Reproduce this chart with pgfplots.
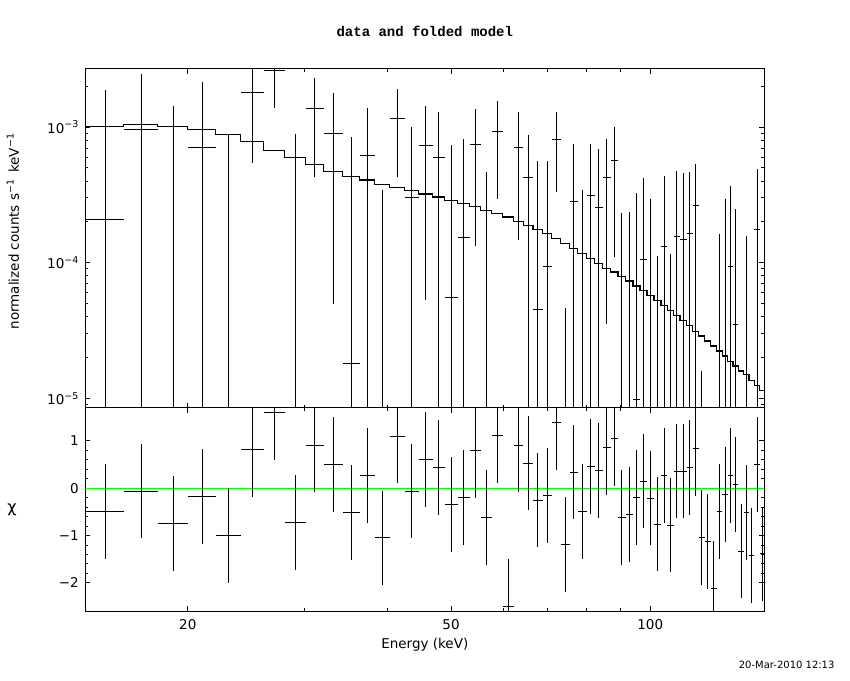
\documentclass[border=0pt]{standalone}
\usepackage{pgfplots}
\pgfplotsset{compat=1.18}
\usepackage{pgfplotstable}
\usepackage{fontspec}
\setmainfont{DejaVu Sans}
\newfontfamily\titlefont{Liberation Mono}
\definecolor{pgreen}{RGB}{0,255,0}

% data points with visible central value: x, half width, value, top, bottom of error bar
\pgfplotstableread{
x xe y hi lo
15.005 1.005 2.09e-4 1.874e-3 1e-7
17.015 1.005 9.61e-4 2.458e-3 1e-7
21.02 1.02 7.08e-4 2.146e-3 1e-7
25.05 1.0 1.80e-3 3.05e-3 5.46e-4
27.04 0.99 2.617e-3 3.85e-3 1.389e-3
31.125 0.975 1.373e-3 2.297e-3 4.30e-4
33.195 1.095 9.03e-4 1.780e-3 4.99e-5
35.34 1.05 1.81e-5 8.44e-4 1e-7
37.365 0.975 6.18e-4 1.380e-3 1e-7
41.47 1.08 1.159e-3 1.905e-3 4.30e-4
43.615 1.065 3.00e-4 1.0e-3 1e-7
45.795 1.115 7.33e-4 1.429e-3 5.34e-5
47.91 1.0 5.98e-4 1.290e-3 1e-7
50.04 1.13 5.55e-5 7.37e-4 1e-7
52.26 1.09 1.537e-4 8.16e-4 1e-7
54.39 1.04 7.45e-4 1.357e-3 1.334e-4
58.72 1.12 9.19e-4 1.554e-3 2.96e-4
63.235 1.055 7.08e-4 1.290e-3 1.477e-4
65.395 1.105 4.21e-4 8.73e-4 1e-7
67.64 1.14 4.48e-5 5.62e-4 1e-7
69.875 1.095 9.40e-5 5.62e-4 1e-7
72.10 1.13 8.11e-4 1.290e-3 3.34e-4
76.625 1.065 2.83e-4 7.49e-4 1e-7
81.295 1.135 3.13e-4 7.49e-4 1e-7
83.59 1.16 2.57e-4 6.88e-4 1e-7
85.95 1.2 4.26e-4 8.16e-4 3.51e-5
88.27 1.12 5.62e-4 1.0e-3 1.107e-4
95.345 1.165 9.83e-6 3.26e-4 1e-7
97.70 1.19 1.058e-4 4.23e-4 1e-7
104.98 1.15 1.320e-4 4.35e-4 1e-7
109.72 1.2 1.572e-4 4.74e-4 1e-7
112.23 1.31 1.494e-4 4.58e-4 1e-7
114.735 1.195 1.645e-4 4.66e-4 1e-7
117.155 1.225 2.62e-4 5.34e-4 1e-7
132.17 1.22 9.40e-5 3.67e-4 1e-7
134.63 1.24 3.51e-5 2.49e-4 1e-7
145.015 1.365 1.741e-4 4.93e-4 1e-7
}\datavis

% bins whose central value is below zero: only the upper part of the error bar shows
\pgfplotstableread{
x hi lo
19.01 1.429e-3 1e-7
23.045 8.88e-4 1e-7
29.09 8.88e-4 1e-7
39.365 3.43e-4 1e-7
56.515 4.66e-4 1e-7
74.395 4.63e-5 1e-7
78.925 3.43e-4 1e-7
90.605 2.31e-4 1e-7
93.0 2.35e-4 1e-7
100.11 2.95e-4 1e-7
102.58 1.120e-4 1e-7
107.325 1.158e-4 1e-7
119.63 1.59e-5 1e-7
127.28 1.636e-4 1e-7
129.735 2.95e-4 1e-7
139.74 1.581e-4 1e-7
}\dataneg

% folded model: left bin edge, value (last row closes the last bin)
\pgfplotstableread{
e m
14.00 1.011e-3
16.01 1.046e-3
18.02 1.011e-3
20.00 9.61e-4
22.04 8.83e-4
24.05 7.79e-4
26.05 6.69e-4
28.03 5.94e-4
30.15 5.31e-4
32.10 4.69e-4
34.29 4.30e-4
36.39 4.07e-4
38.34 3.78e-4
40.39 3.59e-4
42.55 3.39e-4
44.68 3.21e-4
46.91 3.05e-4
48.91 2.88e-4
51.17 2.72e-4
53.35 2.59e-4
55.43 2.44e-4
57.60 2.31e-4
59.84 2.17e-4
62.18 2.02e-4
64.29 1.88e-4
66.50 1.76e-4
68.78 1.63e-4
70.97 1.50e-4
73.23 1.39e-4
75.56 1.27e-4
77.69 1.17e-4
80.16 1.07e-4
82.43 9.83e-5
84.75 9.03e-5
87.15 8.53e-5
89.39 7.93e-5
91.82 7.33e-5
94.18 6.73e-5
96.51 6.22e-5
98.89 5.71e-5
101.33 5.25e-5
103.83 4.82e-5
106.13 4.43e-5
108.52 4.07e-5
110.92 3.74e-5
113.54 3.43e-5
115.93 3.13e-5
118.38 2.88e-5
120.88 2.65e-5
123.43 2.43e-5
126.04 2.23e-5
128.52 2.05e-5
130.95 1.88e-5
133.39 1.73e-5
135.87 1.59e-5
138.45 1.49e-5
141.03 1.36e-5
143.65 1.25e-5
146.38 1.15e-5
148.74 1.15e-5
}\modeldata

% residuals in units of sigma
\pgfplotstableread{
x xe c
15.005 1.005 -0.49
17.015 1.005 -0.06
19.01 0.99 -0.74
21.02 1.02 -0.17
23.045 1.005 -1.00
25.05 1.0 0.82
27.04 0.99 1.60
29.09 1.06 -0.72
31.125 0.975 0.91
33.195 1.095 0.50
35.34 1.05 -0.51
37.365 0.975 0.27
39.365 1.025 -1.05
41.47 1.08 1.10
43.615 1.065 -0.06
45.795 1.115 0.61
47.91 1.0 0.44
50.04 1.13 -0.34
52.26 1.09 -0.19
54.39 1.04 0.80
56.515 1.085 -0.62
58.72 1.12 1.12
61.01 1.17 -2.50
63.235 1.055 0.91
65.395 1.105 0.53
67.64 1.14 -0.25
69.875 1.095 -0.15
72.10 1.13 1.39
74.395 1.165 -1.19
76.625 1.065 0.34
78.925 1.235 -0.49
81.295 1.135 0.46
83.59 1.16 0.38
85.95 1.2 0.86
88.27 1.12 1.05
90.605 1.215 -0.62
93.0 1.18 -0.55
95.345 1.165 -0.19
97.70 1.19 0.15
100.11 1.22 -0.21
102.58 1.25 -0.76
104.98 1.15 0.27
107.325 1.195 -0.78
109.72 1.2 0.36
112.23 1.31 0.36
114.735 1.195 0.44
117.155 1.225 0.84
119.63 1.25 -1.04
122.155 1.275 -1.12
124.735 1.305 -2.12
127.28 1.24 -0.49
129.735 1.215 -0.13
132.17 1.22 0.27
134.63 1.24 0.08
137.16 1.29 -1.33
139.74 1.29 -0.51
142.34 1.31 -1.42
145.015 1.365 0.50
147.56 1.18 -1.39
}\chidata

\begin{document}
\begin{tikzpicture}
\path[use as bounding box] (0pt,0pt) rectangle (850pt,680pt);

\begin{axis}[name=top, at={(85.3pt,272.3pt)}, anchor=south west,
  scale only axis, width=679pt, height=339pt,
  xmode=log, xmin=14, xmax=148.74,
  xtick={20,50,100}, minor xtick={30,40,60,70,80,90},
  major tick length=5pt, minor tick length=3pt,
  tick style={black, line width=0.9pt},
  axis line style={line width=1pt},
  tick label style={font=\fontsize{13.5}{16}\selectfont},
  label style={font=\fontsize{13.5}{16}\selectfont},
  yticklabel style={xshift=-3pt},
  ymode=log, ymin=8.53e-6, ymax=2.689e-3,
  xticklabels={},
  ytick={1e-5,1e-4,1e-3},
  yticklabels={10\textsuperscript{−5},10\textsuperscript{−4},10\textsuperscript{−3}},
  minor ytick={9e-6,2e-5,3e-5,4e-5,5e-5,6e-5,7e-5,8e-5,9e-5,2e-4,3e-4,4e-4,5e-4,6e-4,7e-4,8e-4,9e-4,2e-3},
  title={data and folded model},
  title style={at={(0.5,1)}, anchor=base, yshift=26pt, font=\titlefont\bfseries\fontsize{14}{16}\selectfont},
  ylabel={normalized counts s\textsuperscript{−1}\, keV\textsuperscript{−1}},
  ylabel style={at={(-0.1065,0.52)}, anchor=center},
]
\addplot[black, line width=1.2pt, const plot] table[x=e, y=m] {\modeldata};
\addplot[black, only marks, mark=*, mark size=0pt, mark options={draw=none, fill=none},
  error bars/.cd, x dir=both, x explicit, y dir=both, y explicit, error mark=none,
  error bar style={line width=1pt, draw=black}]
  table[x=x, y=y, x error=xe,
        y error plus expr=\thisrow{hi}-\thisrow{y},
        y error minus expr=\thisrow{y}-\thisrow{lo}] {\datavis};
\addplot[black, only marks, mark=*, mark size=0pt, mark options={draw=none, fill=none},
  error bars/.cd, y dir=minus, y explicit, error mark=none,
  error bar style={line width=1pt, draw=black}]
  table[x=x, y=hi, y error minus expr=\thisrow{hi}-\thisrow{lo}] {\dataneg};
\end{axis}

\begin{axis}[name=bot, at={(85.3pt,69pt)}, anchor=south west,
  scale only axis, width=679pt, height=203.3pt,
  xmode=log, xmin=14, xmax=148.74,
  xtick={20,50,100}, minor xtick={30,40,60,70,80,90},
  major tick length=5pt, minor tick length=3pt,
  tick style={black, line width=0.9pt},
  axis line style={line width=1pt},
  tick label style={font=\fontsize{13.5}{16}\selectfont},
  label style={font=\fontsize{13.5}{16}\selectfont},
  yticklabel style={xshift=-3pt},
  ymin=-2.595, ymax=1.701,
  xticklabels={20,50,100},
  xticklabel style={yshift=-4.5pt},
  ytick={-2,-1,0,1}, yticklabels={−2,−1,0,1},
  minor y tick num=4,
  xlabel={Energy (keV)},
  xlabel style={at={(0.5,0)}, anchor=base, yshift=-37.3pt},
  ylabel={χ},
  ylabel style={at={(-0.108,0.497)}, anchor=center, rotate=-90, font=\fontsize{16}{18}\selectfont},
]
\addplot[pgreen, line width=1.2pt] coordinates {(14,0) (148.74,0)};
\addplot[black, only marks, mark=*, mark size=0pt, mark options={draw=none, fill=none},
  error bars/.cd, x dir=both, x explicit, y dir=both, y fixed=1, error mark=none,
  error bar style={line width=1pt, draw=black}]
  table[x=x, y=c, x error=xe] {\chidata};
\end{axis}

\node[anchor=base east, font=\fontsize{10}{12}\selectfont] at (838pt,11.3pt) {20-Mar-2010 12:13};
\end{tikzpicture}
\end{document}
